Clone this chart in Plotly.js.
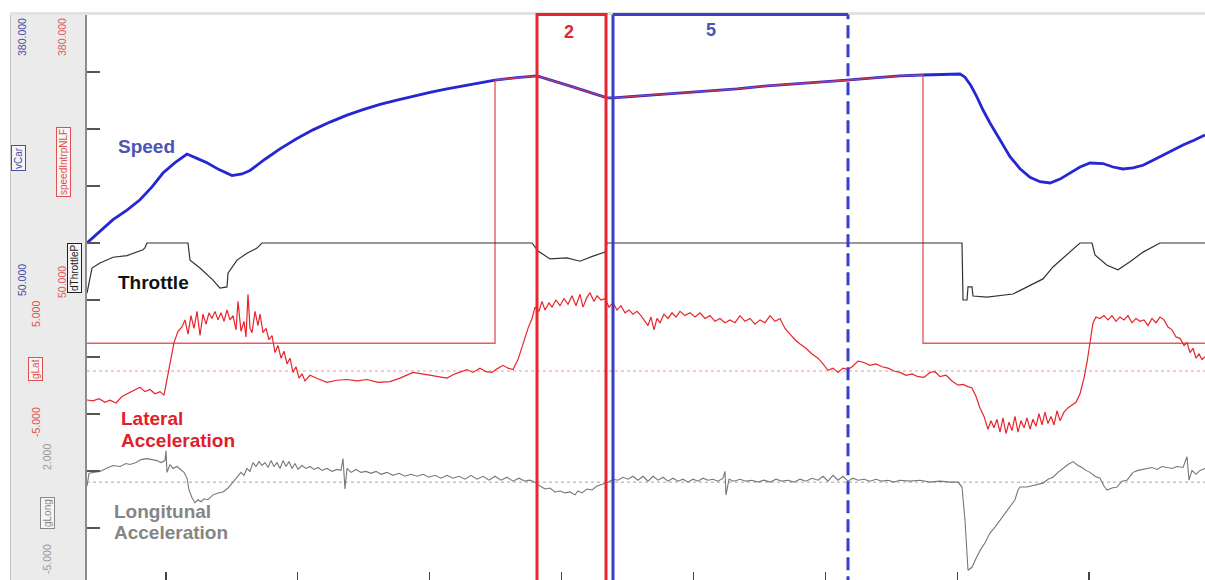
<!DOCTYPE html>
<html><head><meta charset="utf-8">
<script src="https://cdn.plot.ly/plotly-3.0.1.min.js"></script>
<style>
html,body{margin:0;padding:0;background:#fff;width:1205px;height:580px;overflow:hidden;}
#gutter{position:absolute;left:10px;top:12px;width:76px;height:568px;background:#ebebeb;border-left:1px solid #c4c4c4;z-index:0;}
#topband{position:absolute;left:10px;top:12px;width:1195px;height:3px;background:#e2e2e2;z-index:0;}
#chart{position:absolute;left:0;top:0;width:1205px;height:580px;z-index:1;}
</style></head><body>
<div id="gutter"></div><div id="topband"></div><div id="chart"></div>
<script>
// ---------------- data (distance along lap, m) ----------------
const speedDist = [87,100,113,127,140,152,163,175,187,197,
  207,219,232,242,250,265,280,297,313,330,
  347,363,380,397,413,430,447,471,495,517,
  537,572,607,613,657,700,737,767,807,847,
  877,900,923,942,960,965,971,977,983,990,
  1000,1010,1020,1030,1040,1050,1060,1070,1080,1090,
  1103,1113,1123,1133,1143,1155,1167,1175,1183,1194,
  1205];
const speedKmh = [116,129,143,154,166,181,197,209,219,214,
  209,201,194,196,200,213,225,237,247,256,
  264,270.5,276.5,281.5,286,290.5,294.5,299.8,304.7,307.5,
  309.5,297,284,284,287.5,291,294.5,298,301,304.5,
  307.5,309.5,310.5,311.5,311.7,308,298,285,270,255,
  235,216,202,192,187,185.5,190,197,204,208.6,
  208,204,201.7,203,206,213,220,225,229.5,235,
  241];

const nlfDist = [87,495,495,517,537,572,607,613,657,700,737,767,807,847,877,900,923,923,1205];
const nlfKmh  = [0,0,304.7,307.5,309.5,297,284,284,287.5,291,294.5,298,301,304.5,307.5,309.5,310.5,0,0];

const throttleDist = [87,90,92,100,113,127,133,139,143,145,
  147,188,190,200,213,220,227,228,237,247,
  257,262,532,538,550,567,580,593,605,607,
  962,963,967,968,972,973,987,1013,1027,1043,
  1053,1067,1080,1092,1095,1107,1118,1130,1143,1160,
  1205];
const throttlePct = [12,40,56,65,75,78,82,86,88,92,
  100,100,70,56,35,21,23,47,70,82,
  91,100,100,86,72,74,68,77,84,100,
  100,0,0,23,23,7,5,10.5,23,37,
  58,79,100,100,79,61,53,67,84,100,
  100];

const gLatDist = [87,93,99,105,110,116,122,128,134,140,
  145,150,155,160,164,168,171,174,178,182,
  185,188,191,194,197,200,203,206,209,212,
  215,218,221,224,227,230,233,236,238,241,
  244,246,248,250,252,255,258,260,263,266,
  269,272,275,278,281,284,287,290,293,296,
  299,302,305,310,318,327,337,347,357,367,
  378,390,400,413,422,430,440,447,455,462,
  467,473,480,486,492,497,503,508,513,518,
  523,528,532,535,539,542,545,549,552,556,
  560,564,568,572,576,580,583,587,590,594,
  597,601,605,609,613,617,621,625,629,633,
  637,641,645,648,651,654,657,660,664,668,
  672,676,680,685,690,695,700,705,710,715,
  720,725,730,735,740,745,750,755,760,765,
  770,775,780,785,790,795,800,806,812,818,
  823,828,833,838,843,848,853,858,864,870,
  876,882,888,894,900,906,912,918,924,930,
  935,940,946,952,958,963,968,972,976,980,
  984,988,991,994,997,1000,1003,1006,1009,1012,
  1015,1018,1021,1024,1027,1030,1033,1036,1039,1042,
  1045,1048,1051,1054,1057,1060,1064,1068,1072,1076,
  1080,1084,1087,1090,1093,1096,1100,1104,1108,1112,
  1116,1120,1124,1128,1132,1136,1140,1144,1148,1152,
  1156,1160,1164,1168,1172,1176,1180,1184,1187,1190,
  1193,1196,1199,1202,1205];
const gLatG = [-2.04,-2.1,-1.95,-2.2,-2.05,-2.25,-1.8,-1.6,-1.4,-1.15,
  -1.45,-1.3,-1.6,-1.45,-1.7,-0.2,0.9,2.0,2.8,3.1,
  3.6,2.6,3.9,3.0,4.2,2.5,4.0,3.3,4.1,3.7,
  4.2,3.6,4.1,3.5,4.3,3.6,3.9,2.9,4.9,2.8,
  3.5,2.4,5.4,3.0,2.7,4.2,3.2,4.0,2.7,3.0,
  2.2,2.5,1.3,1.8,0.9,1.4,0.5,0.9,-0.1,0.3,
  -0.5,-0.2,-0.7,-0.3,-0.55,-0.8,-0.65,-0.6,-0.7,-0.6,
  -0.8,-0.75,-0.5,-0.1,-0.2,-0.3,-0.4,-0.5,-0.2,-0.05,
  0.1,-0.1,0.2,-0.05,-0.1,0.15,0.4,0.2,0.1,0.8,
  1.9,3.0,3.7,4.5,4.2,4.9,4.3,4.8,4.5,5.0,
  4.6,5.1,4.7,5.3,4.6,5.4,4.5,5.2,5.5,4.9,
  5.3,5.0,5.1,4.5,4.8,4.3,4.6,4.1,4.3,4.0,
  4.2,3.9,3.5,3.2,3.8,2.9,3.7,3.4,4.0,3.7,
  4.1,3.8,4.2,3.9,4.1,3.8,4.1,3.7,3.9,3.5,
  3.7,3.4,3.6,3.4,3.9,3.5,3.7,3.3,3.6,3.4,
  3.9,3.5,3.7,3.0,2.6,2.2,1.9,1.6,1.2,0.9,
  0.5,0.05,0.2,-0.1,0.2,0.1,0.35,0.7,0.6,0.4,
  0.5,0.3,0.2,0.0,-0.1,-0.3,-0.2,-0.4,-0.45,-0.1,
  -0.05,-0.4,-0.3,-0.7,-1.0,-0.95,-1.1,-1.2,-1.8,-2.6,
  -3.2,-4.1,-3.5,-4.0,-3.4,-4.3,-3.3,-4.4,-3.6,-4.2,
  -3.2,-4.3,-3.5,-4.0,-3.3,-4.1,-3.4,-3.9,-3.0,-3.8,
  -2.9,-3.7,-3.2,-3.8,-2.8,-3.5,-2.9,-2.6,-2.4,-2.2,
  -1.6,-0.5,0.6,2.2,3.4,3.8,3.7,3.9,3.6,3.9,
  3.5,3.8,3.6,3.9,3.4,3.7,3.5,3.6,3.2,3.7,
  3.4,3.8,3.6,3.1,2.9,2.4,2.3,1.8,2.0,1.3,
  1.6,0.9,1.2,0.8,1.0];

const gLongDist = [87,89,93,100,106,113,120,126,130,136,
  141,147,152,157,161,165,166,167,170,173,
  177,180,184,187,189,192,195,198,201,204,
  208,213,218,223,228,233,238,241,244,247,
  250,253,256,259,262,265,268,271,274,277,
  280,283,286,289,292,295,298,302,306,310,
  314,318,322,327,332,337,341,343,345,347,
  351,356,361,366,371,376,381,387,393,399,
  405,411,417,423,429,435,441,447,453,459,
  465,471,477,483,489,495,501,507,513,519,
  525,530,535,540,545,550,555,560,565,570,
  575,578,582,587,592,597,603,608,613,618,
  623,628,633,638,643,648,653,658,663,668,
  673,678,683,688,693,698,703,708,713,718,
  723,725,726,729,734,740,746,752,758,764,
  770,776,782,788,794,800,806,812,818,823,
  828,833,838,843,848,853,858,864,870,876,
  882,888,894,900,910,920,930,940,950,958,
  962,965,968,972,976,980,985,990,995,1000,
  1005,1010,1015,1018,1020,1027,1035,1043,1048,1053,
  1058,1063,1068,1073,1078,1082,1086,1090,1095,1100,
  1104,1107,1112,1117,1122,1127,1133,1138,1143,1147,
  1152,1157,1162,1167,1172,1177,1183,1187,1189,1192,
  1196,1200,1205];
const gLongG = [-0.2,0.45,0.5,0.55,0.7,0.85,0.8,0.95,0.9,1.0,
  1.15,1.2,1.15,1.1,1.0,1.1,1.6,0.5,0.9,0.7,
  0.8,0.65,0.5,0.2,-0.4,-0.8,-1.05,-0.9,-1.0,-0.85,
  -0.9,-0.65,-0.55,-0.5,-0.3,0.0,0.3,0.5,0.35,0.7,
  0.55,1.0,0.8,1.05,0.85,1.0,0.75,1.1,0.8,1.0,
  0.7,1.1,0.8,1.05,0.7,0.95,0.65,0.85,0.7,0.8,
  0.65,0.75,0.6,0.7,0.55,0.65,0.6,1.2,-0.35,0.7,
  0.5,0.65,0.5,0.55,0.45,0.55,0.4,0.5,0.35,0.45,
  0.3,0.4,0.3,0.4,0.25,0.35,0.2,0.35,0.2,0.3,
  0.15,0.35,0.15,0.3,0.1,0.3,0.1,0.25,0.05,0.2,
  0.05,0.1,0.0,-0.2,-0.35,-0.3,-0.5,-0.45,-0.55,-0.5,
  -0.65,-0.45,-0.55,-0.35,-0.4,-0.2,-0.1,0.0,0.15,0.1,
  0.25,0.15,0.3,0.1,0.3,0.05,0.3,0.1,0.25,0.05,
  0.2,0.05,0.15,0.0,0.15,0.05,0.2,0.1,0.15,0.05,
  0.2,0.55,-0.65,0.15,0.05,0.15,0.05,0.1,0.0,0.1,
  0.0,0.15,0.05,0.1,0.0,0.15,0.05,0.2,0.1,0.3,
  0.05,0.35,0.1,0.3,0.05,0.2,0.1,0.15,0.05,0.15,
  0.05,0.1,0.0,0.1,0.05,0.1,0.0,0.05,0.0,0.0,
  -0.25,-1.95,-4.5,-4.35,-3.9,-3.5,-3.1,-2.6,-2.3,-1.95,
  -1.6,-1.3,-0.9,-0.4,-0.25,-0.25,-0.15,-0.05,0.15,0.25,
  0.5,0.7,0.9,1.05,0.85,0.75,0.6,0.5,0.3,0.2,
  -0.2,-0.4,-0.3,-0.25,0.05,0.1,0.5,0.6,0.65,0.7,
  0.75,0.65,0.8,0.75,0.7,0.8,0.75,1.3,0.1,0.6,
  0.4,0.6,0.7];

// sector markers (distance)
const sector2 = [537, 606];
const sector5 = [613, 848];
const sectorNames = ['2', '5'];

// channel scale limits shown in the gutter
const speedScale = [50, 380];
const throttleScale = [0, 100];
const gLatScale = [-5, 5];
const gLongScale = [-5, 2];
const channelNames = ['vCar', 'speedIntrpNLF', 'dThrottleP', 'gLat', 'gLong'];
const traceLabels = ['Speed', 'Throttle', 'Lateral', 'Acceleration', 'Longitunal', 'Acceleration'];

// ---------------- layout helpers ----------------
const P = {left: 87, right: 1205, top: 15, bottom: 580};
const X = px => (px - P.left) / (P.right - P.left);
const Y = py => (P.bottom - py) / (P.bottom - P.top);
function rangeFor(vA, pA, vB, pB) {
  const s = (vA - vB) / (pB - pA);
  return [vB - (P.bottom - pB) * s, vA + (pA - P.top) * s];
}
const FONT = 'Liberation Sans, Arial, sans-serif';
const BLUE = '#2626d2', RED = '#e8242c';

const traces = [
  {x: throttleDist, y: throttlePct, yaxis: 'y2', mode: 'lines', line: {color: '#333333', width: 1.2}},
  {x: gLongDist, y: gLongG, yaxis: 'y4', mode: 'lines', line: {color: '#777777', width: 1.1}},
  {x: gLatDist, y: gLatG, yaxis: 'y3', mode: 'lines', line: {color: RED, width: 1.2}},
  {x: speedDist, y: speedKmh, yaxis: 'y', mode: 'lines', line: {color: BLUE, width: 2.8}},
  {x: nlfDist, y: nlfKmh, yaxis: 'y', mode: 'lines', line: {color: '#e04048', width: 1.4}, opacity: 0.85}
];

const topY = Y(14.5), botY = -0.05;
const shapes = [
  {type: 'line', xref: 'paper', x0: 0, x1: 1, yref: 'y3', y0: 0, y1: 0, layer: 'below', line: {color: '#e79a9a', width: 1, dash: 'dot'}},
  {type: 'line', xref: 'paper', x0: 0, x1: 1, yref: 'y4', y0: 0, y1: 0, layer: 'below', line: {color: '#b0a0a0', width: 1, dash: 'dot'}},
  {type: 'rect', xref: 'x', x0: sector2[0], x1: sector2[1], yref: 'paper', y0: botY, y1: topY, line: {color: '#e8262e', width: 3}},
  {type: 'line', xref: 'x', x0: sector5[0], x1: sector5[0], yref: 'paper', y0: botY, y1: topY, line: {color: '#3a3ec8', width: 3}},
  {type: 'line', xref: 'x', x0: sector5[0], x1: sector5[1], yref: 'paper', y0: topY, y1: topY, line: {color: '#3a3ec8', width: 3}},
  {type: 'line', xref: 'x', x0: sector5[1], x1: sector5[1], yref: 'paper', y0: botY, y1: topY, line: {color: '#3a3ec8', width: 3, dash: '13px,6px'}}
];

function gut(text, px, py, color, opts) {
  const a = {text: text, xref: 'paper', yref: 'paper', x: X(px), y: Y(py), xanchor: 'center', yanchor: 'middle',
    textangle: -90, showarrow: false, font: {family: FONT, size: 10.5, color: color}};
  if (opts && opts.box) { a.bordercolor = color; a.borderwidth = 1; a.borderpad = 1; a.bgcolor = '#f6f6f6'; a.font.size = 10; }
  return a;
}
function lbl(text, px, py, color, size) {
  return {text: '<b>' + text + '</b>', xref: 'paper', yref: 'paper', x: X(px), y: Y(py), xanchor: 'left', yanchor: 'middle',
    showarrow: false, font: {family: FONT, size: size || 19, color: color}};
}
const f3 = v => v.toFixed(3);
const annotations = [
  gut(f3(speedScale[1]), 22, 37, '#4a4ea8'),
  gut(f3(speedScale[1]), 62, 37, '#e05a5a'),
  gut(channelNames[0], 18, 158, '#4a4ea8', {box: true}),
  gut(channelNames[1], 63, 162, '#e05050', {box: true}),
  gut(f3(speedScale[0]), 22, 280, '#4a4ea8'),
  gut(f3(speedScale[0]), 62, 282, '#e05a5a'),
  gut(channelNames[2], 74, 268, '#222222', {box: true}),
  gut(f3(gLatScale[1]), 36, 314, '#e05050'),
  gut(channelNames[3], 35, 369, '#e05050', {box: true}),
  gut(f3(gLatScale[0]), 36, 422, '#e05050'),
  gut(f3(gLongScale[1]), 47, 457, '#999999'),
  gut(channelNames[4], 47, 513, '#888888', {box: true}),
  gut(f3(gLongScale[0]), 47, 559, '#999999'),
  lbl(traceLabels[0], 116, 146, '#4b55b3'),
  lbl(traceLabels[1], 116, 282, '#111111'),
  lbl(traceLabels[2], 119, 418, '#e0202a'),
  lbl(traceLabels[3], 119, 440, '#e0202a'),
  lbl(traceLabels[4], 112, 511, '#858585'),
  lbl(traceLabels[5], 112, 532, '#858585'),
  {text: '<b>' + sectorNames[0] + '</b>', xref: 'x', yref: 'paper', x: 569, y: Y(32), xanchor: 'center', yanchor: 'middle', showarrow: false, font: {family: FONT, size: 18, color: '#e0282e'}},
  {text: '<b>' + sectorNames[1] + '</b>', xref: 'x', yref: 'paper', x: 711, y: Y(30), xanchor: 'center', yanchor: 'middle', showarrow: false, font: {family: FONT, size: 18, color: '#4a55b3'}}
];

const layout = {
  width: 1205, height: 580, autosize: false,
  margin: {l: P.left, r: 1205 - P.right, t: P.top, b: 580 - P.bottom, pad: 0},
  paper_bgcolor: 'rgba(0,0,0,0)', plot_bgcolor: '#ffffff',
  showlegend: false,
  xaxis: {range: [P.left, P.right], showgrid: false, zeroline: false, showticklabels: false, showline: false,
    ticks: 'inside', tick0: 166, dtick: 131.86, ticklen: 8, tickwidth: 1.2, tickcolor: '#444'},
  yaxis: {range: rangeFor(speedScale[1], 15, speedScale[0], 300), showgrid: false, zeroline: false, showticklabels: false,
    showline: true, linecolor: '#8c8c8c', linewidth: 2, ticks: 'inside', tick0: 50, dtick: 66, ticklen: 13, tickwidth: 1.5, tickcolor: '#555'},
  yaxis2: {overlaying: 'y', range: rangeFor(throttleScale[1], 243, throttleScale[0], 300), visible: false},
  yaxis3: {overlaying: 'y', range: rangeFor(gLatScale[1], 300, gLatScale[0], 442), visible: false},
  yaxis4: {overlaying: 'y', range: rangeFor(gLongScale[1], 443, gLongScale[0], 580), visible: false},
  shapes: shapes,
  annotations: annotations
};
Plotly.newPlot('chart', traces, layout, {staticPlot: true, displayModeBar: false});
</script></body></html>
